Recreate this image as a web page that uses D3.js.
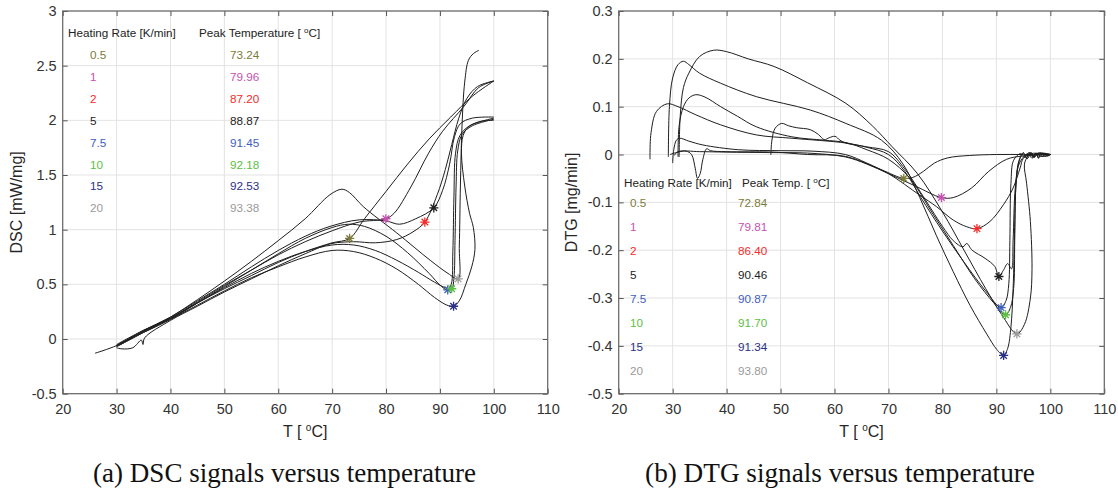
<!DOCTYPE html>
<html>
<head>
<meta charset="utf-8" />
<script src="https://cdn.jsdelivr.net/npm/d3@7"></script>
<style>
    body { margin: 0; background: #fff; }
    .grid line { stroke: #e3e3e3; stroke-width: 1; }
    .curve { fill: none; stroke: #1e1e1e; stroke-width: 1; }
</style>
</head>
<body>
<script>
// ---- data ----
var rates = ["0.5", "1", "2", "5", "7.5", "10", "15", "20"];
var rateColors = ["#7b7b3a", "#c651b1", "#f52a2a", "#222222", "#4060c0", "#5cc043", "#2b3087", "#9a9a9a"];

var xTicks = [20, 30, 40, 50, 60, 70, 80, 90, 100, 110];
var dscTicks = [-0.5, 0, 0.5, 1, 1.5, 2, 2.5, 3];
var dtgTicks = [-0.5, -0.4, -0.3, -0.2, -0.1, 0, 0.1, 0.2, 0.3];

var dscPeakT = [73.24, 79.96, 87.20, 88.87, 91.45, 92.18, 92.53, 93.38];
var dscPeakV = [0.92, 1.10, 1.07, 1.20, 0.45, 0.46, 0.30, 0.55];
var dtgPeakT = [72.84, 79.81, 86.40, 90.46, 90.87, 91.70, 91.34, 93.80];
var dtgPeakV = [-0.05, -0.09, -0.155, -0.255, -0.32, -0.335, -0.42, -0.375];

// DSC curves [T, mW/mg]
var dsc05 = [[30,-0.05],[35,0.08],[40,0.19],[45,0.33],[50,0.46],[55,0.58],[60,0.7],[65,0.8],[70,0.88],[73.24,0.92],[76,1.1],[80,1.35],[84,1.6],[88,1.83],[92,2.03],[96,2.22],[100,2.36]];
var dsc1 = [[30,-0.06],[35,0.07],[40,0.19],[45,0.34],[50,0.49],[55,0.63],[60,0.77],[65,0.89],[70,0.99],[75,1.07],[79.96,1.1],[81.5,1.15],[84.6,1.39],[87.9,1.7],[90.5,1.9],[94.5,2.13],[97.2,2.3],[100,2.36]];
var dsc2 = [[30,-0.08],[31,-0.09],[33,-0.08],[34.6,-0.01],[34.9,-0.05],[35.2,0.01],[40,0.17],[45,0.3],[50,0.43],[55,0.55],[60,0.67],[65,0.78],[69.6,0.87],[74,0.89],[78,0.88],[82,0.91],[85,0.98],[87.2,1.07],[89.5,1.32],[91,1.55],[92.2,1.78],[93.5,2.02],[95,2.2],[97,2.31],[100,2.36]];
var dsc5 = [[30,-0.06],[35,0.08],[40,0.2],[45,0.35],[50,0.5],[55,0.66],[60,0.81],[65,0.94],[69.6,1.03],[75,1.09],[80,1.08],[82.5,1.05],[85.5,1.1],[88.87,1.2],[90.5,1.36],[91.8,1.6],[92.7,1.85],[93.8,1.97],[96,2.02],[100,2.03]];
var dsc75 = [[30,-0.07],[35,0.06],[40,0.18],[45,0.33],[50,0.48],[55,0.63],[60,0.78],[65,0.92],[70,1.02],[73,1.05],[76,1.03],[80,0.94],[84,0.79],[88,0.6],[90.3,0.48],[91.45,0.45],[92.1,0.5],[92.4,0.8],[92.6,1.3],[92.9,1.7],[93.7,1.86],[95.5,1.95],[100,2.02]];
var dsc10 = [[30,-0.06],[35,0.07],[40,0.19],[45,0.33],[50,0.47],[55,0.6],[60,0.71],[65,0.8],[70,0.86],[74,0.86],[78,0.81],[82,0.72],[86,0.61],[89,0.52],[91,0.47],[92.18,0.46],[92.6,0.56],[92.8,0.9],[93,1.4],[93.3,1.72],[94.1,1.87],[96,1.95],[100,2.01]];
var dsc15 = [[30,-0.07],[35,0.06],[40,0.18],[45,0.31],[50,0.44],[55,0.56],[60,0.66],[65,0.75],[70,0.81],[74,0.8],[78,0.74],[82,0.64],[86,0.5],[89,0.38],[91.3,0.31],[92.53,0.3],[93.6,0.35],[94.8,0.5],[95.9,0.66],[96.5,0.82],[96.2,1.02],[95.5,1.15],[94.6,1.4],[94,1.7],[94.3,1.86],[95.3,1.94],[97.5,1.99],[100,2.0]];
var dsc20 = [[26,-0.13],[30,-0.06],[35,0.07],[40,0.2],[45,0.36],[50,0.53],[55,0.71],[60,0.9],[65,1.1],[69.6,1.32],[71.8,1.37],[73.2,1.34],[75.8,1.21],[82,0.97],[88.2,0.72],[91.5,0.6],[93.38,0.55],[93.6,0.85],[93.8,1.4],[94.1,1.95],[94.6,2.35],[95.3,2.55],[96.2,2.61],[97.2,2.64]];

// DTG curves [T, mg/min]
var dtg05 = [[29.5,0],[31,0.005],[32.5,0.007],[33.5,0],[34.2,-0.03],[34.6,-0.05],[35.1,-0.04],[35.6,-0.01],[36.3,0.012],[37,0.008],[40,0.006],[48.8,0.005],[55,0],[62.1,-0.004],[68.7,-0.032],[72.84,-0.05],[74.5,-0.048],[76.5,-0.035],[78.5,-0.018],[81,-0.007],[85,-0.002],[90,0],[95,0],[100,0]];
var dtg1 = [[30.3,-0.002],[31,0.006],[35,0.006],[40,0.005],[48,0.004],[55,0.003],[62,-0.005],[66,-0.02],[70,-0.04],[75,-0.066],[79.81,-0.09],[82,-0.09],[85.4,-0.07],[88.6,-0.035],[91.9,-0.01],[95,-0.003],[100,0]];
var dtg2 = [[30,-0.018],[30.2,0.01],[30.7,0.03],[31.3,0.034],[33,0.028],[35.6,0.02],[42.2,0.01],[50,0.008],[56,0.007],[62,0],[66,-0.018],[70,-0.04],[75.8,-0.085],[78.9,-0.109],[82,-0.137],[84.5,-0.151],[86.4,-0.155],[88.8,-0.14],[91.3,-0.105],[93.1,-0.07],[94.4,-0.028],[95,-0.008],[96.5,0.002],[100,0]];
var dtg5 = [[48.2,-0.001],[48.4,0.03],[49,0.055],[50.2,0.065],[51.5,0.06],[53,0.056],[55.5,0.052],[57,0.042],[58.1,0.031],[59,0.035],[60.1,0.038],[61,0.03],[62.1,0.024],[66,0.016],[70,0.006],[73,-0.03],[76,-0.08],[80,-0.15],[82,-0.18],[83.8,-0.193],[84.5,-0.186],[85.5,-0.2],[87.9,-0.217],[89.7,-0.234],[90.46,-0.255],[91.3,-0.242],[92.1,-0.228],[92.8,-0.239],[93.1,-0.179],[93.5,-0.07],[94.2,-0.02],[95.5,0],[96.3,0.004],[96.8,-0.006],[97.3,0.003],[97.8,-0.007],[98.4,0.002],[99,-0.004],[100,0]];
var dtg75 = [[25.8,-0.01],[25.8,0],[26,0.046],[27,0.09],[29,0.106],[31,0.1],[34.3,0.083],[38.9,0.062],[45.5,0.041],[52.1,0.034],[62.1,0.024],[66,0.015],[70,0],[73,-0.035],[76,-0.09],[80,-0.16],[84,-0.225],[88,-0.285],[90.87,-0.32],[91.8,-0.305],[92.3,-0.27],[92.5,-0.18],[92.7,-0.06],[93.2,-0.012],[94.5,0.002],[95.3,-0.006],[96,0.003],[96.6,-0.008],[97.2,0.002],[98,-0.004],[100,0]];
var dtg10 = [[31,-0.005],[31.2,0.06],[32,0.1],[33,0.118],[34.3,0.125],[36,0.12],[38.9,0.1],[42,0.08],[45.5,0.058],[52.1,0.037],[58,0.03],[62.1,0.025],[66,0.01],[70,-0.01],[74,-0.05],[78,-0.12],[82,-0.19],[86,-0.26],[89.5,-0.31],[91.7,-0.335],[92.6,-0.32],[93.2,-0.28],[93.4,-0.18],[93.6,-0.07],[94.2,-0.015],[95,0.004],[95.6,-0.007],[96.2,0.003],[96.9,-0.005],[97.6,0.002],[100,0]];
var dtg15 = [[29.2,-0.005],[29.4,0.1],[30,0.16],[31,0.188],[32,0.195],[33,0.188],[35,0.17],[38.9,0.149],[45.5,0.121],[55.5,0.093],[62.1,0.065],[68.7,0.03],[72.7,-0.02],[75.8,-0.09],[78.9,-0.17],[82,-0.245],[85.1,-0.315],[88.2,-0.375],[90.1,-0.408],[91.34,-0.42],[92.1,-0.405],[92.7,-0.36],[93.1,-0.28],[93.4,-0.15],[93.7,-0.05],[94.2,-0.012],[95,0.003],[95.7,-0.009],[96.4,0.002],[97,-0.006],[97.8,0.003],[100,0]];
var dtg20 = [[31.2,-0.005],[31.4,0.08],[32,0.14],[33,0.17],[35,0.205],[37.6,0.218],[40,0.215],[44,0.2],[48.8,0.184],[55,0.15],[62.1,0.107],[67,0.06],[70.7,0.016],[75.3,-0.039],[80,-0.12],[84,-0.2],[88,-0.28],[91,-0.335],[93.8,-0.375],[95.2,-0.355],[96.3,-0.3],[96.6,-0.24],[96.3,-0.14],[95.6,-0.06],[95.2,-0.02],[95.8,-0.004],[96.5,0.004],[97,-0.006],[97.4,0.003],[97.8,-0.008],[98.2,0.002],[98.6,-0.005],[99,0.003],[99.5,-0.003],[100,0]];

var dscCurves = [dsc05, dsc1, dsc2, dsc5, dsc75, dsc10, dsc15, dsc20];
var dtgCurves = [dtg05, dtg1, dtg2, dtg5, dtg75, dtg10, dtg15, dtg20];

// ---- layout ----
var width = 1118, height = 495;
var sans = "'Liberation Sans', Arial, sans-serif";
var serif = "'Liberation Serif', 'Times New Roman', serif";

var svg = d3.select("body").append("svg")
    .attr("width", width)
    .attr("height", height);

function fmt(v) {
    return String(Math.round(v * 10) / 10);
}

// "[ °C]" with a raised small o, as in the figure
function degreeText(sel, before, size, oSize, rise) {
    sel.append("tspan").text(before + " [ ");
    sel.append("tspan").style("font-size", oSize + "px").attr("dy", -rise).text("o");
    sel.append("tspan").style("font-size", size + "px").attr("dy", rise).text("C]");
}

function drawPanel(p) {
    var x = d3.scaleLinear().domain([20, 110]).range([p.left, p.right]);
    var y = d3.scaleLinear().domain(p.yDomain).range([p.bottom, p.top]);
    var g = svg.append("g");

    // grid
    var grid = g.append("g").attr("class", "grid");
    grid.selectAll(".gx").data(xTicks).enter().append("line")
        .attr("x1", function (d) { return x(d); })
        .attr("x2", function (d) { return x(d); })
        .attr("y1", p.top).attr("y2", p.bottom);
    grid.selectAll(".gy").data(p.yTicks).enter().append("line")
        .attr("x1", p.left).attr("x2", p.right)
        .attr("y1", function (d) { return y(d); })
        .attr("y2", function (d) { return y(d); });

    // axes, ticks inward on all four sides
    function styleAxis(sel) {
        sel.selectAll(".domain").remove();
        sel.selectAll(".tick line").attr("stroke", "#555");
        sel.selectAll("text").style("font-size", "14.5px").style("font-family", sans).attr("fill", "#333");
    }
    g.append("g").attr("transform", "translate(0," + p.bottom + ")")
        .call(d3.axisBottom(x).tickValues(xTicks).tickFormat(fmt).tickSize(-5).tickPadding(10))
        .call(styleAxis);
    g.append("g").attr("transform", "translate(0," + p.top + ")")
        .call(d3.axisTop(x).tickValues(xTicks).tickFormat("").tickSize(-5))
        .call(styleAxis);
    g.append("g").attr("transform", "translate(" + p.left + ",0)")
        .call(d3.axisLeft(y).tickValues(p.yTicks).tickFormat(fmt).tickSize(-5).tickPadding(6))
        .call(styleAxis);
    g.append("g").attr("transform", "translate(" + p.right + ",0)")
        .call(d3.axisRight(y).tickValues(p.yTicks).tickFormat("").tickSize(-5))
        .call(styleAxis);

    g.append("rect")
        .attr("x", p.left).attr("y", p.top)
        .attr("width", p.right - p.left).attr("height", p.bottom - p.top)
        .attr("fill", "none").attr("stroke", "#666").attr("stroke-width", 1.2);

    // legend table
    var leg = g.append("g").style("font-family", sans).style("font-size", "11.7px");
    leg.append("text").attr("x", p.leg.h1).attr("y", p.leg.hy).attr("dy", "0.35em")
        .attr("fill", "#222").text("Heating Rate [K/min]");
    var h2 = leg.append("text").attr("x", p.leg.h2).attr("y", p.leg.hy).attr("dy", "0.35em")
        .attr("fill", "#222");
    degreeText(h2, p.leg.title, 11.7, 8, 4);
    leg.selectAll(".r").data(rates).enter().append("text")
        .attr("x", p.leg.c1)
        .attr("y", function (d, i) { return p.leg.ry + i * p.leg.step; })
        .attr("dy", "0.35em")
        .attr("fill", function (d, i) { return rateColors[i]; })
        .text(function (d) { return d; });
    leg.selectAll(".v").data(p.peakT).enter().append("text")
        .attr("x", p.leg.c2)
        .attr("y", function (d, i) { return p.leg.ry + i * p.leg.step; })
        .attr("dy", "0.35em")
        .attr("fill", function (d, i) { return rateColors[i]; })
        .text(function (d) { return d.toFixed(2); });

    // curves
    var line = d3.line()
        .x(function (d) { return x(d[0]); })
        .y(function (d) { return y(d[1]); })
        .curve(d3.curveCatmullRom.alpha(0.5));
    g.append("g").selectAll("path").data(p.curves).enter().append("path")
        .attr("class", "curve")
        .attr("d", line);

    // peak asterisks
    var r = 4.6, k = r * Math.SQRT1_2;
    var star = "M" + (-r) + ",0L" + r + ",0M0," + (-r) + "L0," + r +
        "M" + (-k) + "," + (-k) + "L" + k + "," + k + "M" + (-k) + "," + k + "L" + k + "," + (-k);
    g.append("g").selectAll("path").data(p.peakT).enter().append("path")
        .attr("d", star)
        .attr("transform", function (d, i) { return "translate(" + x(d) + "," + y(p.peakV[i]) + ")"; })
        .attr("fill", "none")
        .attr("stroke", function (d, i) { return rateColors[i]; })
        .attr("stroke-width", 1.3);

    // axis labels
    var cx = (p.left + p.right) / 2;
    var xl = g.append("text").attr("x", cx).attr("y", 437).attr("text-anchor", "middle")
        .style("font-family", sans).style("font-size", "16px").attr("fill", "#262626");
    degreeText(xl, "T", 16, 10, 6);
    g.append("text")
        .attr("transform", "translate(" + p.ylabelX + "," + (p.top + p.bottom) / 2 + ") rotate(-90)")
        .attr("text-anchor", "middle")
        .style("font-family", sans).style("font-size", "16px").attr("fill", "#262626")
        .text(p.ylabel);

    // caption, sized to the width it has in the figure
    var cap = g.append("text").attr("x", p.capX).attr("y", 482).attr("text-anchor", "middle")
        .style("font-family", serif).style("font-size", "22px").attr("fill", "#111")
        .text(p.caption);
    var w = cap.node().getComputedTextLength();
    cap.style("font-size", (22 * p.capW / w) + "px");
}

drawPanel({
    left: 62.7, right: 547.7, top: 11, bottom: 393.7,
    yDomain: [-0.5, 3], yTicks: dscTicks,
    curves: dscCurves, peakT: dscPeakT, peakV: dscPeakV,
    ylabel: "DSC [mW/mg]", ylabelX: 22,
    leg: { h1: 68, h2: 199, hy: 33, c1: 90, c2: 230, ry: 55, step: 21.9, title: "Peak Temperature" },
    caption: "(a) DSC signals versus temperature", capX: 284.5, capW: 383
});

drawPanel({
    left: 618.7, right: 1104.3, top: 11, bottom: 393.7,
    yDomain: [-0.5, 0.3], yTicks: dtgTicks,
    curves: dtgCurves, peakT: dtgPeakT, peakV: dtgPeakV,
    ylabel: "DTG [mg/min]", ylabelX: 577,
    leg: { h1: 624, h2: 742, hy: 183, c1: 630, c2: 738, ry: 203, step: 24, title: "Peak Temp." },
    caption: "(b) DTG signals versus temperature", capX: 840, capW: 390
});
</script>
</body>
</html>
